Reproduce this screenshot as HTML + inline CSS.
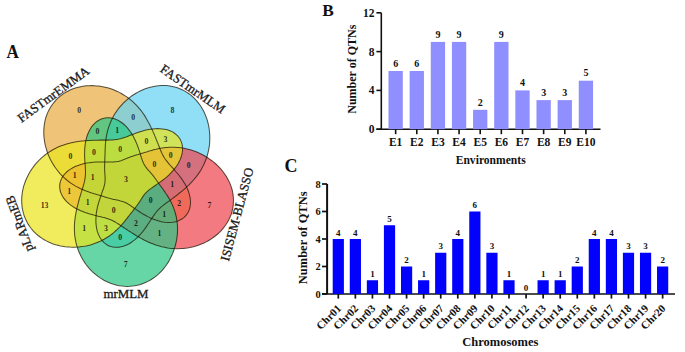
<!DOCTYPE html>
<html><head><meta charset="utf-8"><style>
html,body{margin:0;padding:0;background:#fff;}
svg{display:block;}
text{font-family:"Liberation Serif", serif;}
</style></head><body>
<svg width="685" height="352" viewBox="0 0 685 352">
<rect width="685" height="352" fill="#fff"/>
<g>
<path d="M171.5,166.7 L172.6,167.9 L173.8,169.2 L175.0,170.5 L176.2,172.0 L177.5,173.5 L178.8,175.0 L180.1,176.7 L181.4,178.4 L182.6,180.2 L183.8,182.1 L185.0,184.0 L186.1,186.0 L187.1,188.1 L188.0,190.2 L188.8,192.4 L189.4,194.6 L189.9,196.8 L190.3,199.0 L190.5,201.2 L190.5,203.3 L190.3,205.4 L189.9,207.5 L189.4,209.4 L188.6,211.3 L187.7,213.1 L186.6,214.7 L185.3,216.2 L183.8,217.6 L182.2,218.8 L180.4,219.8 L178.5,220.7 L176.5,221.4 L174.3,221.9 L172.1,222.2 L169.9,222.4 L167.6,222.4 L165.2,222.2 L162.9,221.9 L160.5,221.4 L158.2,220.8 L155.9,220.1 L153.6,219.3 L151.4,218.4 L149.3,217.4 L147.2,216.4 L145.3,215.3 L143.4,214.2 L141.6,213.1 L139.9,212.0 L138.3,211.0 L136.7,209.9 L135.3,208.9 L133.9,208.0 L132.7,207.1 L131.4,206.2 L130.3,205.4 L129.2,204.7 L128.2,204.1 L127.2,203.5 L126.2,203.0 L125.2,202.5 L124.3,202.1 L123.4,201.8 L122.5,201.4 L121.7,201.2 L120.8,200.9 L119.9,200.7 L119.1,200.5 L118.2,200.3 L117.3,200.1 L116.5,200.0 L115.6,199.8 L114.7,199.6 L113.8,199.4 L112.9,199.2 L112.1,199.0 L111.2,198.8 L110.3,198.6 L109.4,198.3 L108.5,198.1 L107.5,197.8 L106.6,197.5 L105.7,197.2 L104.8,196.9 L103.8,196.6 L102.8,196.3 L101.8,196.0 L100.8,195.7 L99.8,195.4 L98.7,195.1 L97.6,194.7 L96.5,194.4 L95.3,194.0 L94.1,193.7 L92.9,193.3 L91.6,192.9 L90.3,192.4 L89.0,192.0 L87.6,191.5 L86.2,191.0 L84.7,190.4 L83.2,189.8 L81.7,189.2 L80.2,188.5 L78.7,187.7 L77.1,186.9 L75.5,186.1 L74.0,185.1 L72.4,184.1 L70.8,183.1 L69.3,182.0 L67.7,180.8 L66.2,179.5 L64.6,178.2 L63.2,176.8 L61.7,175.3 L60.2,173.8 L58.8,172.2 L57.5,170.5 L56.2,168.8 L54.9,167.0 L53.7,165.1 L52.5,163.2 L51.4,161.2 L50.3,159.2 L49.3,157.1 L48.4,155.0 L47.5,152.8 L46.8,150.5 L46.1,148.2 L45.4,145.9 L44.9,143.5 L44.5,141.1 L44.2,138.7 L43.9,136.3 L43.8,133.8 L43.8,131.3 L43.9,128.9 L44.1,126.4 L44.4,124.0 L44.9,121.5 L45.4,119.1 L46.1,116.7 L47.0,114.4 L47.9,112.1 L49.0,109.9 L50.2,107.8 L51.5,105.7 L52.9,103.7 L54.5,101.8 L56.1,99.9 L57.8,98.2 L59.7,96.6 L61.6,95.1 L63.6,93.6 L65.7,92.3 L67.9,91.2 L70.1,90.1 L72.4,89.1 L74.7,88.3 L77.1,87.6 L79.5,87.0 L81.9,86.5 L84.3,86.1 L86.8,85.8 L89.3,85.7 L91.7,85.6 L94.2,85.7 L96.6,85.9 L99.0,86.1 L101.4,86.5 L103.8,86.9 L106.2,87.5 L108.5,88.1 L110.7,88.8 L113.0,89.6 L115.1,90.5 L117.3,91.4 L119.3,92.4 L121.4,93.5 L123.3,94.7 L125.2,95.9 L127.1,97.1 L128.9,98.5 L130.6,99.8 L132.2,101.2 L133.8,102.7 L135.3,104.1 L136.8,105.6 L138.1,107.1 L139.4,108.7 L140.7,110.2 L141.9,111.8 L143.0,113.3 L144.1,114.9 L145.1,116.4 L146.0,117.9 L146.9,119.4 L147.7,120.9 L148.5,122.4 L149.3,123.8 L150.0,125.2 L150.7,126.6 L151.3,128.0 L152.0,129.3 L152.6,130.6 L153.1,131.9 L153.7,133.2 L154.2,134.4 L154.7,135.6 L155.2,136.8 L155.7,137.9 L156.1,139.1 L156.6,140.2 L157.0,141.3 L157.4,142.4 L157.9,143.4 L158.3,144.5 L158.7,145.5 L159.1,146.5 L159.5,147.6 L159.9,148.6 L160.3,149.6 L160.7,150.5 L161.1,151.5 L161.5,152.5 L162.0,153.4 L162.4,154.4 L162.9,155.4 L163.5,156.3 L164.0,157.3 L164.6,158.2 L165.3,159.2 L166.0,160.2 L166.8,161.2 L167.6,162.2 L168.5,163.3 L169.4,164.4 L170.4,165.5Z" fill="#EAAD44" fill-opacity="0.72" stroke="none"/>
<path d="M151.1,219.4 L150.3,220.8 L149.3,222.3 L148.3,223.8 L147.3,225.3 L146.2,226.9 L145.0,228.6 L143.8,230.2 L142.5,231.9 L141.1,233.5 L139.6,235.2 L138.1,236.8 L136.4,238.3 L134.7,239.8 L132.9,241.2 L131.1,242.5 L129.1,243.7 L127.2,244.7 L125.2,245.6 L123.1,246.3 L121.0,246.8 L119.0,247.2 L116.9,247.3 L114.9,247.3 L112.9,247.0 L111.0,246.6 L109.1,245.9 L107.3,245.0 L105.7,243.9 L104.1,242.6 L102.6,241.1 L101.3,239.5 L100.1,237.7 L99.1,235.8 L98.2,233.7 L97.4,231.6 L96.8,229.3 L96.4,227.0 L96.1,224.6 L95.9,222.2 L95.9,219.8 L96.0,217.4 L96.1,215.0 L96.4,212.7 L96.8,210.4 L97.2,208.1 L97.7,206.0 L98.3,203.9 L98.9,201.9 L99.5,200.0 L100.1,198.1 L100.7,196.4 L101.3,194.7 L101.8,193.2 L102.3,191.7 L102.8,190.3 L103.3,189.0 L103.7,187.8 L104.0,186.6 L104.3,185.5 L104.6,184.4 L104.8,183.4 L104.9,182.4 L105.0,181.5 L105.1,180.5 L105.1,179.6 L105.1,178.7 L105.1,177.8 L105.1,176.9 L105.0,176.0 L105.0,175.2 L104.9,174.3 L104.8,173.4 L104.8,172.5 L104.7,171.6 L104.7,170.7 L104.7,169.8 L104.6,168.8 L104.6,167.9 L104.6,167.0 L104.6,166.0 L104.6,165.1 L104.7,164.1 L104.7,163.2 L104.7,162.2 L104.8,161.2 L104.8,160.2 L104.8,159.1 L104.9,158.1 L104.9,157.0 L105.0,155.8 L105.0,154.7 L105.0,153.5 L105.1,152.3 L105.1,151.1 L105.1,149.8 L105.2,148.4 L105.3,147.1 L105.3,145.6 L105.4,144.2 L105.6,142.7 L105.7,141.1 L105.9,139.6 L106.1,137.9 L106.4,136.3 L106.7,134.6 L107.1,132.9 L107.5,131.2 L108.0,129.4 L108.5,127.6 L109.1,125.9 L109.8,124.1 L110.5,122.3 L111.3,120.5 L112.2,118.7 L113.1,116.9 L114.1,115.1 L115.2,113.3 L116.4,111.6 L117.6,109.8 L118.9,108.1 L120.3,106.4 L121.8,104.8 L123.3,103.2 L124.9,101.6 L126.6,100.1 L128.3,98.6 L130.1,97.2 L132.0,95.8 L134.0,94.5 L136.0,93.3 L138.0,92.1 L140.2,91.0 L142.4,90.0 L144.6,89.1 L146.9,88.2 L149.2,87.5 L151.5,86.9 L153.9,86.4 L156.3,86.0 L158.8,85.7 L161.2,85.5 L163.7,85.5 L166.1,85.6 L168.6,85.8 L171.0,86.2 L173.4,86.7 L175.8,87.3 L178.1,88.0 L180.4,88.9 L182.6,89.9 L184.8,91.1 L186.9,92.4 L188.9,93.7 L190.9,95.2 L192.8,96.9 L194.6,98.6 L196.3,100.4 L197.9,102.3 L199.4,104.2 L200.8,106.3 L202.1,108.4 L203.3,110.6 L204.4,112.8 L205.4,115.1 L206.3,117.4 L207.1,119.7 L207.8,122.1 L208.4,124.5 L208.9,126.9 L209.2,129.3 L209.5,131.7 L209.7,134.1 L209.8,136.5 L209.8,138.9 L209.7,141.3 L209.6,143.7 L209.3,146.0 L208.9,148.3 L208.5,150.6 L208.0,152.8 L207.4,155.0 L206.8,157.1 L206.0,159.2 L205.2,161.3 L204.4,163.3 L203.5,165.2 L202.5,167.1 L201.5,168.9 L200.5,170.7 L199.4,172.4 L198.2,174.1 L197.1,175.6 L195.9,177.2 L194.7,178.6 L193.5,180.0 L192.3,181.4 L191.1,182.7 L189.9,183.9 L188.7,185.1 L187.5,186.2 L186.3,187.3 L185.1,188.4 L184.0,189.4 L182.9,190.3 L181.7,191.3 L180.6,192.2 L179.6,193.0 L178.5,193.9 L177.5,194.7 L176.5,195.5 L175.5,196.2 L174.5,197.0 L173.5,197.7 L172.6,198.4 L171.6,199.1 L170.7,199.8 L169.8,200.5 L168.9,201.1 L168.0,201.8 L167.1,202.4 L166.3,203.0 L165.4,203.7 L164.6,204.3 L163.7,204.9 L162.9,205.6 L162.1,206.2 L161.3,206.9 L160.5,207.6 L159.7,208.3 L158.9,209.1 L158.2,209.9 L157.4,210.7 L156.7,211.6 L155.9,212.5 L155.2,213.5 L154.4,214.6 L153.6,215.7 L152.8,216.9 L152.0,218.1Z" fill="#66D3F4" fill-opacity="0.72" stroke="none"/>
<path d="M99.7,216.5 L98.1,216.2 L96.4,215.7 L94.6,215.3 L92.8,214.8 L90.9,214.3 L88.9,213.8 L86.9,213.1 L84.9,212.4 L82.8,211.6 L80.7,210.8 L78.7,209.8 L76.6,208.8 L74.6,207.7 L72.6,206.4 L70.7,205.1 L68.9,203.7 L67.3,202.2 L65.7,200.6 L64.3,198.9 L63.0,197.1 L62.0,195.3 L61.1,193.4 L60.4,191.5 L60.0,189.6 L59.7,187.6 L59.7,185.6 L59.9,183.7 L60.3,181.8 L61.0,179.9 L61.8,178.1 L62.9,176.3 L64.2,174.6 L65.6,173.0 L67.2,171.5 L69.0,170.1 L70.9,168.9 L72.9,167.7 L75.1,166.6 L77.3,165.7 L79.5,164.9 L81.8,164.2 L84.1,163.6 L86.5,163.1 L88.8,162.8 L91.1,162.4 L93.3,162.2 L95.5,162.1 L97.6,162.0 L99.6,161.9 L101.5,161.9 L103.4,161.9 L105.1,161.9 L106.8,161.9 L108.4,162.0 L109.9,162.0 L111.3,162.0 L112.6,161.9 L113.8,161.9 L115.0,161.8 L116.1,161.7 L117.1,161.6 L118.1,161.4 L119.0,161.2 L119.9,160.9 L120.8,160.7 L121.7,160.4 L122.5,160.1 L123.3,159.8 L124.2,159.4 L125.0,159.1 L125.8,158.8 L126.6,158.4 L127.4,158.1 L128.3,157.7 L129.1,157.4 L130.0,157.1 L130.8,156.8 L131.7,156.5 L132.6,156.2 L133.5,155.9 L134.4,155.6 L135.3,155.3 L136.2,155.0 L137.1,154.7 L138.1,154.5 L139.1,154.2 L140.1,153.9 L141.1,153.6 L142.1,153.2 L143.2,152.9 L144.3,152.6 L145.4,152.2 L146.6,151.9 L147.8,151.5 L149.0,151.1 L150.3,150.8 L151.6,150.4 L153.0,150.0 L154.4,149.6 L155.9,149.3 L157.4,148.9 L158.9,148.6 L160.5,148.3 L162.2,148.0 L163.9,147.8 L165.6,147.6 L167.4,147.4 L169.2,147.3 L171.1,147.2 L173.0,147.2 L174.9,147.3 L176.9,147.4 L178.9,147.5 L180.9,147.8 L182.9,148.1 L185.0,148.5 L187.0,148.9 L189.1,149.5 L191.2,150.1 L193.3,150.7 L195.4,151.5 L197.4,152.3 L199.5,153.3 L201.6,154.3 L203.6,155.3 L205.6,156.5 L207.6,157.7 L209.6,159.1 L211.5,160.5 L213.4,161.9 L215.3,163.5 L217.1,165.1 L218.8,166.9 L220.5,168.7 L222.1,170.5 L223.6,172.5 L225.0,174.5 L226.4,176.5 L227.6,178.7 L228.8,180.9 L229.8,183.1 L230.7,185.4 L231.5,187.7 L232.2,190.1 L232.7,192.5 L233.1,194.9 L233.3,197.3 L233.5,199.7 L233.4,202.1 L233.3,204.6 L233.0,207.0 L232.5,209.4 L232.0,211.7 L231.3,214.0 L230.4,216.3 L229.4,218.5 L228.3,220.7 L227.1,222.8 L225.8,224.8 L224.4,226.8 L222.9,228.7 L221.2,230.6 L219.5,232.3 L217.7,234.0 L215.9,235.5 L213.9,237.0 L212.0,238.4 L209.9,239.8 L207.8,241.0 L205.7,242.1 L203.5,243.2 L201.3,244.1 L199.0,245.0 L196.8,245.7 L194.5,246.4 L192.2,247.0 L189.9,247.5 L187.6,247.9 L185.3,248.2 L183.1,248.5 L180.8,248.6 L178.5,248.7 L176.3,248.7 L174.1,248.6 L171.9,248.4 L169.7,248.2 L167.6,247.9 L165.5,247.5 L163.4,247.1 L161.4,246.7 L159.5,246.1 L157.6,245.6 L155.7,245.0 L153.9,244.3 L152.1,243.6 L150.4,242.9 L148.8,242.2 L147.2,241.5 L145.6,240.7 L144.1,240.0 L142.7,239.2 L141.3,238.4 L139.9,237.7 L138.6,236.9 L137.3,236.2 L136.1,235.5 L134.9,234.7 L133.7,234.0 L132.6,233.3 L131.4,232.6 L130.4,231.9 L129.3,231.2 L128.3,230.6 L127.3,229.9 L126.3,229.2 L125.3,228.6 L124.3,228.0 L123.4,227.3 L122.5,226.7 L121.5,226.1 L120.6,225.5 L119.7,224.9 L118.8,224.3 L117.9,223.7 L117.0,223.1 L116.1,222.6 L115.2,222.0 L114.3,221.5 L113.3,221.0 L112.3,220.5 L111.3,220.1 L110.2,219.6 L109.1,219.2 L108.0,218.8 L106.8,218.4 L105.5,218.0 L104.2,217.6 L102.8,217.3 L101.3,216.9Z" fill="#F04651" fill-opacity="0.72" stroke="none"/>
<path d="M85.2,165.3 L85.0,163.7 L84.9,162.0 L84.8,160.2 L84.7,158.3 L84.6,156.4 L84.6,154.4 L84.6,152.3 L84.7,150.2 L84.8,148.1 L85.0,145.9 L85.3,143.6 L85.7,141.4 L86.2,139.2 L86.8,137.0 L87.5,134.8 L88.4,132.7 L89.3,130.7 L90.4,128.7 L91.6,126.9 L93.0,125.2 L94.4,123.6 L96.0,122.2 L97.6,121.0 L99.4,119.9 L101.2,119.1 L103.1,118.4 L105.1,118.0 L107.1,117.8 L109.1,117.8 L111.2,118.0 L113.2,118.4 L115.2,119.1 L117.2,119.9 L119.2,121.0 L121.1,122.2 L122.9,123.5 L124.6,125.0 L126.3,126.7 L127.8,128.4 L129.3,130.3 L130.7,132.2 L132.0,134.1 L133.1,136.1 L134.2,138.2 L135.2,140.2 L136.1,142.2 L136.9,144.1 L137.6,146.0 L138.3,147.9 L138.9,149.7 L139.5,151.4 L140.0,153.1 L140.5,154.6 L140.9,156.1 L141.3,157.5 L141.8,158.8 L142.2,160.0 L142.6,161.1 L143.0,162.1 L143.5,163.1 L143.9,164.0 L144.4,164.9 L144.9,165.7 L145.4,166.5 L145.9,167.2 L146.5,167.9 L147.0,168.6 L147.6,169.3 L148.1,169.9 L148.7,170.6 L149.3,171.2 L149.9,171.9 L150.4,172.5 L151.0,173.2 L151.6,173.9 L152.2,174.5 L152.7,175.2 L153.3,175.9 L153.9,176.7 L154.4,177.4 L155.0,178.2 L155.5,178.9 L156.1,179.7 L156.6,180.5 L157.2,181.3 L157.8,182.1 L158.4,182.9 L159.0,183.8 L159.6,184.6 L160.2,185.5 L160.9,186.4 L161.6,187.3 L162.3,188.3 L163.0,189.3 L163.7,190.3 L164.5,191.4 L165.2,192.5 L166.0,193.7 L166.8,194.8 L167.6,196.1 L168.4,197.4 L169.2,198.7 L170.0,200.1 L170.7,201.6 L171.5,203.1 L172.2,204.6 L172.9,206.2 L173.6,207.9 L174.2,209.6 L174.8,211.3 L175.3,213.1 L175.8,215.0 L176.3,216.9 L176.6,218.8 L176.9,220.8 L177.2,222.8 L177.4,224.9 L177.5,227.0 L177.5,229.1 L177.5,231.2 L177.4,233.4 L177.2,235.6 L176.9,237.8 L176.6,240.0 L176.1,242.3 L175.6,244.5 L175.0,246.7 L174.3,249.0 L173.5,251.2 L172.7,253.4 L171.7,255.6 L170.6,257.8 L169.5,260.0 L168.3,262.1 L166.9,264.2 L165.5,266.2 L164.0,268.2 L162.4,270.1 L160.7,271.9 L158.9,273.6 L157.0,275.3 L155.1,276.9 L153.0,278.3 L150.9,279.7 L148.8,280.9 L146.5,282.1 L144.3,283.1 L141.9,283.9 L139.6,284.7 L137.2,285.3 L134.7,285.8 L132.3,286.1 L129.8,286.3 L127.3,286.4 L124.9,286.3 L122.4,286.1 L120.0,285.8 L117.6,285.4 L115.2,284.8 L112.8,284.1 L110.5,283.3 L108.2,282.3 L106.0,281.3 L103.9,280.2 L101.8,278.9 L99.7,277.6 L97.7,276.2 L95.8,274.7 L94.0,273.2 L92.3,271.6 L90.6,269.9 L89.0,268.1 L87.5,266.3 L86.1,264.5 L84.7,262.6 L83.4,260.6 L82.3,258.7 L81.2,256.7 L80.2,254.6 L79.2,252.6 L78.4,250.5 L77.7,248.5 L77.0,246.4 L76.4,244.3 L75.9,242.2 L75.5,240.1 L75.1,238.1 L74.8,236.0 L74.6,234.0 L74.5,232.0 L74.4,230.0 L74.4,228.1 L74.4,226.1 L74.5,224.3 L74.6,222.4 L74.8,220.6 L75.0,218.8 L75.2,217.1 L75.5,215.5 L75.8,213.8 L76.1,212.2 L76.4,210.7 L76.7,209.2 L77.0,207.7 L77.4,206.3 L77.7,204.9 L78.1,203.6 L78.4,202.3 L78.8,201.0 L79.1,199.7 L79.4,198.5 L79.8,197.3 L80.1,196.2 L80.5,195.0 L80.8,193.9 L81.1,192.8 L81.5,191.7 L81.8,190.6 L82.1,189.6 L82.5,188.5 L82.8,187.5 L83.1,186.5 L83.4,185.4 L83.7,184.4 L84.0,183.4 L84.2,182.4 L84.5,181.4 L84.7,180.3 L84.9,179.3 L85.1,178.2 L85.2,177.1 L85.3,176.0 L85.4,174.8 L85.5,173.6 L85.5,172.4 L85.5,171.1 L85.4,169.7 L85.4,168.3 L85.3,166.8Z" fill="#2DC683" fill-opacity="0.72" stroke="none"/>
<path d="M129.5,135.6 L131.1,135.0 L132.7,134.4 L134.4,133.8 L136.2,133.1 L138.0,132.5 L140.0,131.8 L142.0,131.2 L144.0,130.6 L146.2,130.1 L148.4,129.6 L150.6,129.2 L152.9,128.9 L155.2,128.7 L157.5,128.6 L159.8,128.7 L162.0,128.9 L164.3,129.2 L166.5,129.6 L168.6,130.2 L170.6,131.0 L172.5,131.9 L174.3,133.0 L175.9,134.3 L177.4,135.6 L178.7,137.2 L179.9,138.8 L180.8,140.6 L181.5,142.4 L182.1,144.4 L182.4,146.4 L182.5,148.5 L182.5,150.7 L182.2,152.9 L181.7,155.1 L181.0,157.3 L180.2,159.4 L179.2,161.6 L178.1,163.7 L176.8,165.7 L175.4,167.7 L173.9,169.6 L172.3,171.4 L170.7,173.2 L169.1,174.8 L167.4,176.4 L165.7,177.9 L164.0,179.2 L162.3,180.5 L160.7,181.7 L159.1,182.9 L157.6,183.9 L156.1,184.9 L154.8,185.8 L153.5,186.7 L152.2,187.6 L151.1,188.4 L150.0,189.1 L149.1,189.9 L148.2,190.6 L147.3,191.4 L146.6,192.1 L145.8,192.8 L145.2,193.5 L144.6,194.2 L144.0,194.9 L143.5,195.7 L143.0,196.4 L142.5,197.1 L142.0,197.9 L141.5,198.7 L141.0,199.4 L140.6,200.2 L140.1,200.9 L139.6,201.7 L139.1,202.4 L138.6,203.2 L138.0,204.0 L137.5,204.7 L137.0,205.5 L136.4,206.2 L135.8,207.0 L135.2,207.8 L134.6,208.5 L134.0,209.3 L133.4,210.1 L132.8,210.9 L132.1,211.7 L131.5,212.6 L130.8,213.4 L130.1,214.3 L129.4,215.2 L128.7,216.2 L127.9,217.1 L127.2,218.1 L126.4,219.2 L125.5,220.2 L124.7,221.3 L123.7,222.4 L122.8,223.5 L121.8,224.7 L120.8,225.8 L119.7,227.0 L118.5,228.2 L117.3,229.3 L116.1,230.5 L114.8,231.7 L113.4,232.9 L112.0,234.0 L110.5,235.1 L109.0,236.2 L107.3,237.3 L105.7,238.3 L104.0,239.3 L102.2,240.3 L100.3,241.2 L98.4,242.0 L96.5,242.8 L94.5,243.6 L92.5,244.2 L90.4,244.9 L88.2,245.4 L86.1,245.9 L83.8,246.3 L81.6,246.6 L79.3,246.9 L77.0,247.1 L74.7,247.2 L72.3,247.2 L69.9,247.1 L67.5,246.9 L65.1,246.7 L62.7,246.3 L60.3,245.9 L57.9,245.3 L55.6,244.7 L53.2,243.9 L50.9,243.0 L48.6,242.0 L46.4,240.9 L44.2,239.7 L42.1,238.4 L40.1,237.0 L38.1,235.5 L36.2,233.9 L34.4,232.2 L32.7,230.4 L31.2,228.5 L29.7,226.5 L28.3,224.4 L27.1,222.3 L26.0,220.1 L25.0,217.8 L24.1,215.5 L23.4,213.2 L22.8,210.7 L22.3,208.3 L22.0,205.9 L21.8,203.4 L21.7,200.9 L21.7,198.4 L21.9,195.9 L22.2,193.4 L22.6,191.0 L23.1,188.6 L23.7,186.2 L24.5,183.8 L25.3,181.5 L26.2,179.2 L27.3,176.9 L28.4,174.8 L29.6,172.6 L30.8,170.6 L32.2,168.5 L33.6,166.6 L35.0,164.7 L36.6,162.9 L38.2,161.2 L39.8,159.5 L41.5,157.9 L43.3,156.4 L45.0,155.0 L46.8,153.6 L48.7,152.4 L50.5,151.2 L52.4,150.0 L54.3,149.0 L56.2,148.0 L58.1,147.1 L60.1,146.3 L62.0,145.6 L63.9,144.9 L65.8,144.3 L67.6,143.7 L69.5,143.2 L71.3,142.8 L73.1,142.4 L74.9,142.1 L76.6,141.8 L78.3,141.5 L79.9,141.3 L81.6,141.1 L83.1,140.9 L84.7,140.8 L86.2,140.7 L87.7,140.6 L89.1,140.5 L90.5,140.4 L91.9,140.3 L93.2,140.3 L94.5,140.2 L95.8,140.2 L97.0,140.2 L98.2,140.2 L99.4,140.1 L100.6,140.1 L101.8,140.1 L102.9,140.1 L104.1,140.1 L105.2,140.1 L106.3,140.1 L107.4,140.1 L108.5,140.1 L109.5,140.0 L110.6,140.0 L111.7,140.0 L112.7,139.9 L113.8,139.8 L114.8,139.8 L115.9,139.6 L117.0,139.5 L118.1,139.3 L119.2,139.1 L120.4,138.8 L121.5,138.5 L122.7,138.1 L124.0,137.7 L125.3,137.3 L126.7,136.8 L128.1,136.2Z" fill="#EAE51F" fill-opacity="0.72" stroke="none"/>
<path d="M171.5,166.7 L172.6,167.9 L173.8,169.2 L175.0,170.5 L176.2,172.0 L177.5,173.5 L178.8,175.0 L180.1,176.7 L181.4,178.4 L182.6,180.2 L183.8,182.1 L185.0,184.0 L186.1,186.0 L187.1,188.1 L188.0,190.2 L188.8,192.4 L189.4,194.6 L189.9,196.8 L190.3,199.0 L190.5,201.2 L190.5,203.3 L190.3,205.4 L189.9,207.5 L189.4,209.4 L188.6,211.3 L187.7,213.1 L186.6,214.7 L185.3,216.2 L183.8,217.6 L182.2,218.8 L180.4,219.8 L178.5,220.7 L176.5,221.4 L174.3,221.9 L172.1,222.2 L169.9,222.4 L167.6,222.4 L165.2,222.2 L162.9,221.9 L160.5,221.4 L158.2,220.8 L155.9,220.1 L153.6,219.3 L151.4,218.4 L149.3,217.4 L147.2,216.4 L145.3,215.3 L143.4,214.2 L141.6,213.1 L139.9,212.0 L138.3,211.0 L136.7,209.9 L135.3,208.9 L133.9,208.0 L132.7,207.1 L131.4,206.2 L130.3,205.4 L129.2,204.7 L128.2,204.1 L127.2,203.5 L126.2,203.0 L125.2,202.5 L124.3,202.1 L123.4,201.8 L122.5,201.4 L121.7,201.2 L120.8,200.9 L119.9,200.7 L119.1,200.5 L118.2,200.3 L117.3,200.1 L116.5,200.0 L115.6,199.8 L114.7,199.6 L113.8,199.4 L112.9,199.2 L112.1,199.0 L111.2,198.8 L110.3,198.6 L109.4,198.3 L108.5,198.1 L107.5,197.8 L106.6,197.5 L105.7,197.2 L104.8,196.9 L103.8,196.6 L102.8,196.3 L101.8,196.0 L100.8,195.7 L99.8,195.4 L98.7,195.1 L97.6,194.7 L96.5,194.4 L95.3,194.0 L94.1,193.7 L92.9,193.3 L91.6,192.9 L90.3,192.4 L89.0,192.0 L87.6,191.5 L86.2,191.0 L84.7,190.4 L83.2,189.8 L81.7,189.2 L80.2,188.5 L78.7,187.7 L77.1,186.9 L75.5,186.1 L74.0,185.1 L72.4,184.1 L70.8,183.1 L69.3,182.0 L67.7,180.8 L66.2,179.5 L64.6,178.2 L63.2,176.8 L61.7,175.3 L60.2,173.8 L58.8,172.2 L57.5,170.5 L56.2,168.8 L54.9,167.0 L53.7,165.1 L52.5,163.2 L51.4,161.2 L50.3,159.2 L49.3,157.1 L48.4,155.0 L47.5,152.8 L46.8,150.5 L46.1,148.2 L45.4,145.9 L44.9,143.5 L44.5,141.1 L44.2,138.7 L43.9,136.3 L43.8,133.8 L43.8,131.3 L43.9,128.9 L44.1,126.4 L44.4,124.0 L44.9,121.5 L45.4,119.1 L46.1,116.7 L47.0,114.4 L47.9,112.1 L49.0,109.9 L50.2,107.8 L51.5,105.7 L52.9,103.7 L54.5,101.8 L56.1,99.9 L57.8,98.2 L59.7,96.6 L61.6,95.1 L63.6,93.6 L65.7,92.3 L67.9,91.2 L70.1,90.1 L72.4,89.1 L74.7,88.3 L77.1,87.6 L79.5,87.0 L81.9,86.5 L84.3,86.1 L86.8,85.8 L89.3,85.7 L91.7,85.6 L94.2,85.7 L96.6,85.9 L99.0,86.1 L101.4,86.5 L103.8,86.9 L106.2,87.5 L108.5,88.1 L110.7,88.8 L113.0,89.6 L115.1,90.5 L117.3,91.4 L119.3,92.4 L121.4,93.5 L123.3,94.7 L125.2,95.9 L127.1,97.1 L128.9,98.5 L130.6,99.8 L132.2,101.2 L133.8,102.7 L135.3,104.1 L136.8,105.6 L138.1,107.1 L139.4,108.7 L140.7,110.2 L141.9,111.8 L143.0,113.3 L144.1,114.9 L145.1,116.4 L146.0,117.9 L146.9,119.4 L147.7,120.9 L148.5,122.4 L149.3,123.8 L150.0,125.2 L150.7,126.6 L151.3,128.0 L152.0,129.3 L152.6,130.6 L153.1,131.9 L153.7,133.2 L154.2,134.4 L154.7,135.6 L155.2,136.8 L155.7,137.9 L156.1,139.1 L156.6,140.2 L157.0,141.3 L157.4,142.4 L157.9,143.4 L158.3,144.5 L158.7,145.5 L159.1,146.5 L159.5,147.6 L159.9,148.6 L160.3,149.6 L160.7,150.5 L161.1,151.5 L161.5,152.5 L162.0,153.4 L162.4,154.4 L162.9,155.4 L163.5,156.3 L164.0,157.3 L164.6,158.2 L165.3,159.2 L166.0,160.2 L166.8,161.2 L167.6,162.2 L168.5,163.3 L169.4,164.4 L170.4,165.5Z" fill="none" stroke="#1a1200" stroke-opacity="0.72" stroke-width="1.05"/>
<path d="M151.1,219.4 L150.3,220.8 L149.3,222.3 L148.3,223.8 L147.3,225.3 L146.2,226.9 L145.0,228.6 L143.8,230.2 L142.5,231.9 L141.1,233.5 L139.6,235.2 L138.1,236.8 L136.4,238.3 L134.7,239.8 L132.9,241.2 L131.1,242.5 L129.1,243.7 L127.2,244.7 L125.2,245.6 L123.1,246.3 L121.0,246.8 L119.0,247.2 L116.9,247.3 L114.9,247.3 L112.9,247.0 L111.0,246.6 L109.1,245.9 L107.3,245.0 L105.7,243.9 L104.1,242.6 L102.6,241.1 L101.3,239.5 L100.1,237.7 L99.1,235.8 L98.2,233.7 L97.4,231.6 L96.8,229.3 L96.4,227.0 L96.1,224.6 L95.9,222.2 L95.9,219.8 L96.0,217.4 L96.1,215.0 L96.4,212.7 L96.8,210.4 L97.2,208.1 L97.7,206.0 L98.3,203.9 L98.9,201.9 L99.5,200.0 L100.1,198.1 L100.7,196.4 L101.3,194.7 L101.8,193.2 L102.3,191.7 L102.8,190.3 L103.3,189.0 L103.7,187.8 L104.0,186.6 L104.3,185.5 L104.6,184.4 L104.8,183.4 L104.9,182.4 L105.0,181.5 L105.1,180.5 L105.1,179.6 L105.1,178.7 L105.1,177.8 L105.1,176.9 L105.0,176.0 L105.0,175.2 L104.9,174.3 L104.8,173.4 L104.8,172.5 L104.7,171.6 L104.7,170.7 L104.7,169.8 L104.6,168.8 L104.6,167.9 L104.6,167.0 L104.6,166.0 L104.6,165.1 L104.7,164.1 L104.7,163.2 L104.7,162.2 L104.8,161.2 L104.8,160.2 L104.8,159.1 L104.9,158.1 L104.9,157.0 L105.0,155.8 L105.0,154.7 L105.0,153.5 L105.1,152.3 L105.1,151.1 L105.1,149.8 L105.2,148.4 L105.3,147.1 L105.3,145.6 L105.4,144.2 L105.6,142.7 L105.7,141.1 L105.9,139.6 L106.1,137.9 L106.4,136.3 L106.7,134.6 L107.1,132.9 L107.5,131.2 L108.0,129.4 L108.5,127.6 L109.1,125.9 L109.8,124.1 L110.5,122.3 L111.3,120.5 L112.2,118.7 L113.1,116.9 L114.1,115.1 L115.2,113.3 L116.4,111.6 L117.6,109.8 L118.9,108.1 L120.3,106.4 L121.8,104.8 L123.3,103.2 L124.9,101.6 L126.6,100.1 L128.3,98.6 L130.1,97.2 L132.0,95.8 L134.0,94.5 L136.0,93.3 L138.0,92.1 L140.2,91.0 L142.4,90.0 L144.6,89.1 L146.9,88.2 L149.2,87.5 L151.5,86.9 L153.9,86.4 L156.3,86.0 L158.8,85.7 L161.2,85.5 L163.7,85.5 L166.1,85.6 L168.6,85.8 L171.0,86.2 L173.4,86.7 L175.8,87.3 L178.1,88.0 L180.4,88.9 L182.6,89.9 L184.8,91.1 L186.9,92.4 L188.9,93.7 L190.9,95.2 L192.8,96.9 L194.6,98.6 L196.3,100.4 L197.9,102.3 L199.4,104.2 L200.8,106.3 L202.1,108.4 L203.3,110.6 L204.4,112.8 L205.4,115.1 L206.3,117.4 L207.1,119.7 L207.8,122.1 L208.4,124.5 L208.9,126.9 L209.2,129.3 L209.5,131.7 L209.7,134.1 L209.8,136.5 L209.8,138.9 L209.7,141.3 L209.6,143.7 L209.3,146.0 L208.9,148.3 L208.5,150.6 L208.0,152.8 L207.4,155.0 L206.8,157.1 L206.0,159.2 L205.2,161.3 L204.4,163.3 L203.5,165.2 L202.5,167.1 L201.5,168.9 L200.5,170.7 L199.4,172.4 L198.2,174.1 L197.1,175.6 L195.9,177.2 L194.7,178.6 L193.5,180.0 L192.3,181.4 L191.1,182.7 L189.9,183.9 L188.7,185.1 L187.5,186.2 L186.3,187.3 L185.1,188.4 L184.0,189.4 L182.9,190.3 L181.7,191.3 L180.6,192.2 L179.6,193.0 L178.5,193.9 L177.5,194.7 L176.5,195.5 L175.5,196.2 L174.5,197.0 L173.5,197.7 L172.6,198.4 L171.6,199.1 L170.7,199.8 L169.8,200.5 L168.9,201.1 L168.0,201.8 L167.1,202.4 L166.3,203.0 L165.4,203.7 L164.6,204.3 L163.7,204.9 L162.9,205.6 L162.1,206.2 L161.3,206.9 L160.5,207.6 L159.7,208.3 L158.9,209.1 L158.2,209.9 L157.4,210.7 L156.7,211.6 L155.9,212.5 L155.2,213.5 L154.4,214.6 L153.6,215.7 L152.8,216.9 L152.0,218.1Z" fill="none" stroke="#1a1200" stroke-opacity="0.72" stroke-width="1.05"/>
<path d="M99.7,216.5 L98.1,216.2 L96.4,215.7 L94.6,215.3 L92.8,214.8 L90.9,214.3 L88.9,213.8 L86.9,213.1 L84.9,212.4 L82.8,211.6 L80.7,210.8 L78.7,209.8 L76.6,208.8 L74.6,207.7 L72.6,206.4 L70.7,205.1 L68.9,203.7 L67.3,202.2 L65.7,200.6 L64.3,198.9 L63.0,197.1 L62.0,195.3 L61.1,193.4 L60.4,191.5 L60.0,189.6 L59.7,187.6 L59.7,185.6 L59.9,183.7 L60.3,181.8 L61.0,179.9 L61.8,178.1 L62.9,176.3 L64.2,174.6 L65.6,173.0 L67.2,171.5 L69.0,170.1 L70.9,168.9 L72.9,167.7 L75.1,166.6 L77.3,165.7 L79.5,164.9 L81.8,164.2 L84.1,163.6 L86.5,163.1 L88.8,162.8 L91.1,162.4 L93.3,162.2 L95.5,162.1 L97.6,162.0 L99.6,161.9 L101.5,161.9 L103.4,161.9 L105.1,161.9 L106.8,161.9 L108.4,162.0 L109.9,162.0 L111.3,162.0 L112.6,161.9 L113.8,161.9 L115.0,161.8 L116.1,161.7 L117.1,161.6 L118.1,161.4 L119.0,161.2 L119.9,160.9 L120.8,160.7 L121.7,160.4 L122.5,160.1 L123.3,159.8 L124.2,159.4 L125.0,159.1 L125.8,158.8 L126.6,158.4 L127.4,158.1 L128.3,157.7 L129.1,157.4 L130.0,157.1 L130.8,156.8 L131.7,156.5 L132.6,156.2 L133.5,155.9 L134.4,155.6 L135.3,155.3 L136.2,155.0 L137.1,154.7 L138.1,154.5 L139.1,154.2 L140.1,153.9 L141.1,153.6 L142.1,153.2 L143.2,152.9 L144.3,152.6 L145.4,152.2 L146.6,151.9 L147.8,151.5 L149.0,151.1 L150.3,150.8 L151.6,150.4 L153.0,150.0 L154.4,149.6 L155.9,149.3 L157.4,148.9 L158.9,148.6 L160.5,148.3 L162.2,148.0 L163.9,147.8 L165.6,147.6 L167.4,147.4 L169.2,147.3 L171.1,147.2 L173.0,147.2 L174.9,147.3 L176.9,147.4 L178.9,147.5 L180.9,147.8 L182.9,148.1 L185.0,148.5 L187.0,148.9 L189.1,149.5 L191.2,150.1 L193.3,150.7 L195.4,151.5 L197.4,152.3 L199.5,153.3 L201.6,154.3 L203.6,155.3 L205.6,156.5 L207.6,157.7 L209.6,159.1 L211.5,160.5 L213.4,161.9 L215.3,163.5 L217.1,165.1 L218.8,166.9 L220.5,168.7 L222.1,170.5 L223.6,172.5 L225.0,174.5 L226.4,176.5 L227.6,178.7 L228.8,180.9 L229.8,183.1 L230.7,185.4 L231.5,187.7 L232.2,190.1 L232.7,192.5 L233.1,194.9 L233.3,197.3 L233.5,199.7 L233.4,202.1 L233.3,204.6 L233.0,207.0 L232.5,209.4 L232.0,211.7 L231.3,214.0 L230.4,216.3 L229.4,218.5 L228.3,220.7 L227.1,222.8 L225.8,224.8 L224.4,226.8 L222.9,228.7 L221.2,230.6 L219.5,232.3 L217.7,234.0 L215.9,235.5 L213.9,237.0 L212.0,238.4 L209.9,239.8 L207.8,241.0 L205.7,242.1 L203.5,243.2 L201.3,244.1 L199.0,245.0 L196.8,245.7 L194.5,246.4 L192.2,247.0 L189.9,247.5 L187.6,247.9 L185.3,248.2 L183.1,248.5 L180.8,248.6 L178.5,248.7 L176.3,248.7 L174.1,248.6 L171.9,248.4 L169.7,248.2 L167.6,247.9 L165.5,247.5 L163.4,247.1 L161.4,246.7 L159.5,246.1 L157.6,245.6 L155.7,245.0 L153.9,244.3 L152.1,243.6 L150.4,242.9 L148.8,242.2 L147.2,241.5 L145.6,240.7 L144.1,240.0 L142.7,239.2 L141.3,238.4 L139.9,237.7 L138.6,236.9 L137.3,236.2 L136.1,235.5 L134.9,234.7 L133.7,234.0 L132.6,233.3 L131.4,232.6 L130.4,231.9 L129.3,231.2 L128.3,230.6 L127.3,229.9 L126.3,229.2 L125.3,228.6 L124.3,228.0 L123.4,227.3 L122.5,226.7 L121.5,226.1 L120.6,225.5 L119.7,224.9 L118.8,224.3 L117.9,223.7 L117.0,223.1 L116.1,222.6 L115.2,222.0 L114.3,221.5 L113.3,221.0 L112.3,220.5 L111.3,220.1 L110.2,219.6 L109.1,219.2 L108.0,218.8 L106.8,218.4 L105.5,218.0 L104.2,217.6 L102.8,217.3 L101.3,216.9Z" fill="none" stroke="#1a1200" stroke-opacity="0.72" stroke-width="1.05"/>
<path d="M85.2,165.3 L85.0,163.7 L84.9,162.0 L84.8,160.2 L84.7,158.3 L84.6,156.4 L84.6,154.4 L84.6,152.3 L84.7,150.2 L84.8,148.1 L85.0,145.9 L85.3,143.6 L85.7,141.4 L86.2,139.2 L86.8,137.0 L87.5,134.8 L88.4,132.7 L89.3,130.7 L90.4,128.7 L91.6,126.9 L93.0,125.2 L94.4,123.6 L96.0,122.2 L97.6,121.0 L99.4,119.9 L101.2,119.1 L103.1,118.4 L105.1,118.0 L107.1,117.8 L109.1,117.8 L111.2,118.0 L113.2,118.4 L115.2,119.1 L117.2,119.9 L119.2,121.0 L121.1,122.2 L122.9,123.5 L124.6,125.0 L126.3,126.7 L127.8,128.4 L129.3,130.3 L130.7,132.2 L132.0,134.1 L133.1,136.1 L134.2,138.2 L135.2,140.2 L136.1,142.2 L136.9,144.1 L137.6,146.0 L138.3,147.9 L138.9,149.7 L139.5,151.4 L140.0,153.1 L140.5,154.6 L140.9,156.1 L141.3,157.5 L141.8,158.8 L142.2,160.0 L142.6,161.1 L143.0,162.1 L143.5,163.1 L143.9,164.0 L144.4,164.9 L144.9,165.7 L145.4,166.5 L145.9,167.2 L146.5,167.9 L147.0,168.6 L147.6,169.3 L148.1,169.9 L148.7,170.6 L149.3,171.2 L149.9,171.9 L150.4,172.5 L151.0,173.2 L151.6,173.9 L152.2,174.5 L152.7,175.2 L153.3,175.9 L153.9,176.7 L154.4,177.4 L155.0,178.2 L155.5,178.9 L156.1,179.7 L156.6,180.5 L157.2,181.3 L157.8,182.1 L158.4,182.9 L159.0,183.8 L159.6,184.6 L160.2,185.5 L160.9,186.4 L161.6,187.3 L162.3,188.3 L163.0,189.3 L163.7,190.3 L164.5,191.4 L165.2,192.5 L166.0,193.7 L166.8,194.8 L167.6,196.1 L168.4,197.4 L169.2,198.7 L170.0,200.1 L170.7,201.6 L171.5,203.1 L172.2,204.6 L172.9,206.2 L173.6,207.9 L174.2,209.6 L174.8,211.3 L175.3,213.1 L175.8,215.0 L176.3,216.9 L176.6,218.8 L176.9,220.8 L177.2,222.8 L177.4,224.9 L177.5,227.0 L177.5,229.1 L177.5,231.2 L177.4,233.4 L177.2,235.6 L176.9,237.8 L176.6,240.0 L176.1,242.3 L175.6,244.5 L175.0,246.7 L174.3,249.0 L173.5,251.2 L172.7,253.4 L171.7,255.6 L170.6,257.8 L169.5,260.0 L168.3,262.1 L166.9,264.2 L165.5,266.2 L164.0,268.2 L162.4,270.1 L160.7,271.9 L158.9,273.6 L157.0,275.3 L155.1,276.9 L153.0,278.3 L150.9,279.7 L148.8,280.9 L146.5,282.1 L144.3,283.1 L141.9,283.9 L139.6,284.7 L137.2,285.3 L134.7,285.8 L132.3,286.1 L129.8,286.3 L127.3,286.4 L124.9,286.3 L122.4,286.1 L120.0,285.8 L117.6,285.4 L115.2,284.8 L112.8,284.1 L110.5,283.3 L108.2,282.3 L106.0,281.3 L103.9,280.2 L101.8,278.9 L99.7,277.6 L97.7,276.2 L95.8,274.7 L94.0,273.2 L92.3,271.6 L90.6,269.9 L89.0,268.1 L87.5,266.3 L86.1,264.5 L84.7,262.6 L83.4,260.6 L82.3,258.7 L81.2,256.7 L80.2,254.6 L79.2,252.6 L78.4,250.5 L77.7,248.5 L77.0,246.4 L76.4,244.3 L75.9,242.2 L75.5,240.1 L75.1,238.1 L74.8,236.0 L74.6,234.0 L74.5,232.0 L74.4,230.0 L74.4,228.1 L74.4,226.1 L74.5,224.3 L74.6,222.4 L74.8,220.6 L75.0,218.8 L75.2,217.1 L75.5,215.5 L75.8,213.8 L76.1,212.2 L76.4,210.7 L76.7,209.2 L77.0,207.7 L77.4,206.3 L77.7,204.9 L78.1,203.6 L78.4,202.3 L78.8,201.0 L79.1,199.7 L79.4,198.5 L79.8,197.3 L80.1,196.2 L80.5,195.0 L80.8,193.9 L81.1,192.8 L81.5,191.7 L81.8,190.6 L82.1,189.6 L82.5,188.5 L82.8,187.5 L83.1,186.5 L83.4,185.4 L83.7,184.4 L84.0,183.4 L84.2,182.4 L84.5,181.4 L84.7,180.3 L84.9,179.3 L85.1,178.2 L85.2,177.1 L85.3,176.0 L85.4,174.8 L85.5,173.6 L85.5,172.4 L85.5,171.1 L85.4,169.7 L85.4,168.3 L85.3,166.8Z" fill="none" stroke="#1a1200" stroke-opacity="0.72" stroke-width="1.05"/>
<path d="M129.5,135.6 L131.1,135.0 L132.7,134.4 L134.4,133.8 L136.2,133.1 L138.0,132.5 L140.0,131.8 L142.0,131.2 L144.0,130.6 L146.2,130.1 L148.4,129.6 L150.6,129.2 L152.9,128.9 L155.2,128.7 L157.5,128.6 L159.8,128.7 L162.0,128.9 L164.3,129.2 L166.5,129.6 L168.6,130.2 L170.6,131.0 L172.5,131.9 L174.3,133.0 L175.9,134.3 L177.4,135.6 L178.7,137.2 L179.9,138.8 L180.8,140.6 L181.5,142.4 L182.1,144.4 L182.4,146.4 L182.5,148.5 L182.5,150.7 L182.2,152.9 L181.7,155.1 L181.0,157.3 L180.2,159.4 L179.2,161.6 L178.1,163.7 L176.8,165.7 L175.4,167.7 L173.9,169.6 L172.3,171.4 L170.7,173.2 L169.1,174.8 L167.4,176.4 L165.7,177.9 L164.0,179.2 L162.3,180.5 L160.7,181.7 L159.1,182.9 L157.6,183.9 L156.1,184.9 L154.8,185.8 L153.5,186.7 L152.2,187.6 L151.1,188.4 L150.0,189.1 L149.1,189.9 L148.2,190.6 L147.3,191.4 L146.6,192.1 L145.8,192.8 L145.2,193.5 L144.6,194.2 L144.0,194.9 L143.5,195.7 L143.0,196.4 L142.5,197.1 L142.0,197.9 L141.5,198.7 L141.0,199.4 L140.6,200.2 L140.1,200.9 L139.6,201.7 L139.1,202.4 L138.6,203.2 L138.0,204.0 L137.5,204.7 L137.0,205.5 L136.4,206.2 L135.8,207.0 L135.2,207.8 L134.6,208.5 L134.0,209.3 L133.4,210.1 L132.8,210.9 L132.1,211.7 L131.5,212.6 L130.8,213.4 L130.1,214.3 L129.4,215.2 L128.7,216.2 L127.9,217.1 L127.2,218.1 L126.4,219.2 L125.5,220.2 L124.7,221.3 L123.7,222.4 L122.8,223.5 L121.8,224.7 L120.8,225.8 L119.7,227.0 L118.5,228.2 L117.3,229.3 L116.1,230.5 L114.8,231.7 L113.4,232.9 L112.0,234.0 L110.5,235.1 L109.0,236.2 L107.3,237.3 L105.7,238.3 L104.0,239.3 L102.2,240.3 L100.3,241.2 L98.4,242.0 L96.5,242.8 L94.5,243.6 L92.5,244.2 L90.4,244.9 L88.2,245.4 L86.1,245.9 L83.8,246.3 L81.6,246.6 L79.3,246.9 L77.0,247.1 L74.7,247.2 L72.3,247.2 L69.9,247.1 L67.5,246.9 L65.1,246.7 L62.7,246.3 L60.3,245.9 L57.9,245.3 L55.6,244.7 L53.2,243.9 L50.9,243.0 L48.6,242.0 L46.4,240.9 L44.2,239.7 L42.1,238.4 L40.1,237.0 L38.1,235.5 L36.2,233.9 L34.4,232.2 L32.7,230.4 L31.2,228.5 L29.7,226.5 L28.3,224.4 L27.1,222.3 L26.0,220.1 L25.0,217.8 L24.1,215.5 L23.4,213.2 L22.8,210.7 L22.3,208.3 L22.0,205.9 L21.8,203.4 L21.7,200.9 L21.7,198.4 L21.9,195.9 L22.2,193.4 L22.6,191.0 L23.1,188.6 L23.7,186.2 L24.5,183.8 L25.3,181.5 L26.2,179.2 L27.3,176.9 L28.4,174.8 L29.6,172.6 L30.8,170.6 L32.2,168.5 L33.6,166.6 L35.0,164.7 L36.6,162.9 L38.2,161.2 L39.8,159.5 L41.5,157.9 L43.3,156.4 L45.0,155.0 L46.8,153.6 L48.7,152.4 L50.5,151.2 L52.4,150.0 L54.3,149.0 L56.2,148.0 L58.1,147.1 L60.1,146.3 L62.0,145.6 L63.9,144.9 L65.8,144.3 L67.6,143.7 L69.5,143.2 L71.3,142.8 L73.1,142.4 L74.9,142.1 L76.6,141.8 L78.3,141.5 L79.9,141.3 L81.6,141.1 L83.1,140.9 L84.7,140.8 L86.2,140.7 L87.7,140.6 L89.1,140.5 L90.5,140.4 L91.9,140.3 L93.2,140.3 L94.5,140.2 L95.8,140.2 L97.0,140.2 L98.2,140.2 L99.4,140.1 L100.6,140.1 L101.8,140.1 L102.9,140.1 L104.1,140.1 L105.2,140.1 L106.3,140.1 L107.4,140.1 L108.5,140.1 L109.5,140.0 L110.6,140.0 L111.7,140.0 L112.7,139.9 L113.8,139.8 L114.8,139.8 L115.9,139.6 L117.0,139.5 L118.1,139.3 L119.2,139.1 L120.4,138.8 L121.5,138.5 L122.7,138.1 L124.0,137.7 L125.3,137.3 L126.7,136.8 L128.1,136.2Z" fill="none" stroke="#1a1200" stroke-opacity="0.72" stroke-width="1.05"/>
</g>
<text x="79.30" y="113.20" font-size="7.8" text-anchor="middle" font-weight="bold" fill="#000" fill-opacity="0.8">0</text>
<text x="133.30" y="120.00" font-size="7.8" text-anchor="middle" font-weight="bold" fill="#000" fill-opacity="0.8">0</text>
<text x="97.50" y="134.20" font-size="7.8" text-anchor="middle" font-weight="bold" fill="#000" fill-opacity="0.8">0</text>
<text x="117.10" y="133.30" font-size="7.8" text-anchor="middle" font-weight="bold" fill="#000" fill-opacity="0.8">1</text>
<text x="172.40" y="113.10" font-size="7.8" text-anchor="middle" font-weight="bold" fill="#000" fill-opacity="0.8">8</text>
<text x="70.50" y="159.00" font-size="7.8" text-anchor="middle" font-weight="bold" fill="#000" fill-opacity="0.8">0</text>
<text x="94.00" y="155.30" font-size="7.8" text-anchor="middle" font-weight="bold" fill="#000" fill-opacity="0.8">0</text>
<text x="120.30" y="151.70" font-size="7.8" text-anchor="middle" font-weight="bold" fill="#000" fill-opacity="0.8">0</text>
<text x="74.70" y="178.30" font-size="7.8" text-anchor="middle" font-weight="bold" fill="#000" fill-opacity="0.8">1</text>
<text x="92.60" y="179.50" font-size="7.8" text-anchor="middle" font-weight="bold" fill="#000" fill-opacity="0.8">1</text>
<text x="125.90" y="182.10" font-size="7.8" text-anchor="middle" font-weight="bold" fill="#000" fill-opacity="0.8">3</text>
<text x="69.10" y="194.00" font-size="7.8" text-anchor="middle" font-weight="bold" fill="#000" fill-opacity="0.8">1</text>
<text x="146.50" y="143.80" font-size="7.8" text-anchor="middle" font-weight="bold" fill="#000" fill-opacity="0.8">0</text>
<text x="165.50" y="142.10" font-size="7.8" text-anchor="middle" font-weight="bold" fill="#000" fill-opacity="0.8">3</text>
<text x="170.60" y="158.30" font-size="7.8" text-anchor="middle" font-weight="bold" fill="#000" fill-opacity="0.8">0</text>
<text x="154.40" y="166.80" font-size="7.8" text-anchor="middle" font-weight="bold" fill="#000" fill-opacity="0.8">0</text>
<text x="188.80" y="168.20" font-size="7.8" text-anchor="middle" font-weight="bold" fill="#000" fill-opacity="0.8">0</text>
<text x="172.30" y="186.90" font-size="7.8" text-anchor="middle" font-weight="bold" fill="#000" fill-opacity="0.8">1</text>
<text x="87.70" y="204.90" font-size="7.8" text-anchor="middle" font-weight="bold" fill="#000" fill-opacity="0.8">1</text>
<text x="113.60" y="213.10" font-size="7.8" text-anchor="middle" font-weight="bold" fill="#000" fill-opacity="0.8">0</text>
<text x="150.80" y="203.20" font-size="7.8" text-anchor="middle" font-weight="bold" fill="#000" fill-opacity="0.8">0</text>
<text x="136.00" y="226.20" font-size="7.8" text-anchor="middle" font-weight="bold" fill="#000" fill-opacity="0.8">2</text>
<text x="84.30" y="230.50" font-size="7.8" text-anchor="middle" font-weight="bold" fill="#000" fill-opacity="0.8">1</text>
<text x="105.90" y="230.50" font-size="7.8" text-anchor="middle" font-weight="bold" fill="#000" fill-opacity="0.8">3</text>
<text x="120.10" y="239.80" font-size="7.8" text-anchor="middle" font-weight="bold" fill="#000" fill-opacity="0.8">0</text>
<text x="179.10" y="205.90" font-size="7.8" text-anchor="middle" font-weight="bold" fill="#000" fill-opacity="0.8">2</text>
<text x="209.50" y="208.40" font-size="7.8" text-anchor="middle" font-weight="bold" fill="#000" fill-opacity="0.8">7</text>
<text x="164.10" y="216.80" font-size="7.8" text-anchor="middle" font-weight="bold" fill="#000" fill-opacity="0.8">1</text>
<text x="159.50" y="236.10" font-size="7.8" text-anchor="middle" font-weight="bold" fill="#000" fill-opacity="0.8">1</text>
<text x="44.60" y="208.20" font-size="7.8" text-anchor="middle" font-weight="bold" fill="#000" fill-opacity="0.8">13</text>
<text x="125.70" y="266.70" font-size="7.8" text-anchor="middle" font-weight="bold" fill="#000" fill-opacity="0.8">7</text>
<text x="55.90" y="97.80" font-size="12.9" text-anchor="middle" font-weight="normal" fill="#1a1a1a" transform="rotate(-36.2 55.90 97.80)" stroke="#1a1a1a" stroke-width="0.3">FASTmrEMMA</text>
<text x="190.30" y="92.60" font-size="12.9" text-anchor="middle" font-weight="normal" fill="#1a1a1a" transform="rotate(34.6 190.30 92.60)" stroke="#1a1a1a" stroke-width="0.3">FASTmrMLM</text>
<text x="126.00" y="297.60" font-size="12.9" text-anchor="middle" font-weight="normal" fill="#1a1a1a" stroke="#1a1a1a" stroke-width="0.3">mrMLM</text>
<text x="241.20" y="215.40" font-size="12.9" text-anchor="middle" font-weight="normal" fill="#1a1a1a" transform="rotate(-75 241.20 215.40)" stroke="#1a1a1a" stroke-width="0.3">ISISEM-BLASSO</text>
<text x="23.40" y="222.20" font-size="12.9" text-anchor="middle" font-weight="normal" fill="#1a1a1a" transform="rotate(-110 23.40 222.20)" stroke="#1a1a1a" stroke-width="0.3">pLARmEB</text>
<text x="0" y="0" font-size="19" text-anchor="start" font-weight="bold" fill="#111" transform="translate(6.6 57.6) scale(0.9 1)">A</text>
<line x1="381.3" y1="12.8" x2="381.3" y2="129.2" stroke="#111" stroke-width="1.6"/>
<line x1="376.4" y1="129.2" x2="600.5" y2="129.2" stroke="#111" stroke-width="1.6"/>
<line x1="376.4" y1="129.20" x2="381.3" y2="129.20" stroke="#111" stroke-width="1.6"/>
<text x="374.60" y="133.10" font-size="11.5" text-anchor="end" font-weight="bold" fill="#111">0</text>
<line x1="376.4" y1="90.40" x2="381.3" y2="90.40" stroke="#111" stroke-width="1.6"/>
<text x="374.60" y="94.30" font-size="11.5" text-anchor="end" font-weight="bold" fill="#111">4</text>
<line x1="376.4" y1="51.60" x2="381.3" y2="51.60" stroke="#111" stroke-width="1.6"/>
<text x="374.60" y="55.50" font-size="11.5" text-anchor="end" font-weight="bold" fill="#111">8</text>
<line x1="376.4" y1="12.80" x2="381.3" y2="12.80" stroke="#111" stroke-width="1.6"/>
<text x="374.60" y="16.70" font-size="11.5" text-anchor="end" font-weight="bold" fill="#111">12</text>
<rect x="388.50" y="71.00" width="14.3" height="58.20" fill="#908FFF"/>
<line x1="395.65" y1="129.2" x2="395.65" y2="134.2" stroke="#111" stroke-width="1.6"/>
<text x="395.65" y="146.40" font-size="11.5" text-anchor="middle" font-weight="bold" fill="#111">E1</text>
<text x="395.65" y="66.70" font-size="10" text-anchor="middle" font-weight="bold" fill="#111">6</text>
<rect x="409.64" y="71.00" width="14.3" height="58.20" fill="#908FFF"/>
<line x1="416.79" y1="129.2" x2="416.79" y2="134.2" stroke="#111" stroke-width="1.6"/>
<text x="416.79" y="146.40" font-size="11.5" text-anchor="middle" font-weight="bold" fill="#111">E2</text>
<text x="416.79" y="66.70" font-size="10" text-anchor="middle" font-weight="bold" fill="#111">6</text>
<rect x="430.78" y="41.90" width="14.3" height="87.30" fill="#908FFF"/>
<line x1="437.93" y1="129.2" x2="437.93" y2="134.2" stroke="#111" stroke-width="1.6"/>
<text x="437.93" y="146.40" font-size="11.5" text-anchor="middle" font-weight="bold" fill="#111">E3</text>
<text x="437.93" y="37.60" font-size="10" text-anchor="middle" font-weight="bold" fill="#111">9</text>
<rect x="451.92" y="41.90" width="14.3" height="87.30" fill="#908FFF"/>
<line x1="459.07" y1="129.2" x2="459.07" y2="134.2" stroke="#111" stroke-width="1.6"/>
<text x="459.07" y="146.40" font-size="11.5" text-anchor="middle" font-weight="bold" fill="#111">E4</text>
<text x="459.07" y="37.60" font-size="10" text-anchor="middle" font-weight="bold" fill="#111">9</text>
<rect x="473.06" y="109.80" width="14.3" height="19.40" fill="#908FFF"/>
<line x1="480.21" y1="129.2" x2="480.21" y2="134.2" stroke="#111" stroke-width="1.6"/>
<text x="480.21" y="146.40" font-size="11.5" text-anchor="middle" font-weight="bold" fill="#111">E5</text>
<text x="480.21" y="105.50" font-size="10" text-anchor="middle" font-weight="bold" fill="#111">2</text>
<rect x="494.20" y="41.90" width="14.3" height="87.30" fill="#908FFF"/>
<line x1="501.35" y1="129.2" x2="501.35" y2="134.2" stroke="#111" stroke-width="1.6"/>
<text x="501.35" y="146.40" font-size="11.5" text-anchor="middle" font-weight="bold" fill="#111">E6</text>
<text x="501.35" y="37.60" font-size="10" text-anchor="middle" font-weight="bold" fill="#111">9</text>
<rect x="515.34" y="90.40" width="14.3" height="38.80" fill="#908FFF"/>
<line x1="522.49" y1="129.2" x2="522.49" y2="134.2" stroke="#111" stroke-width="1.6"/>
<text x="522.49" y="146.40" font-size="11.5" text-anchor="middle" font-weight="bold" fill="#111">E7</text>
<text x="522.49" y="86.10" font-size="10" text-anchor="middle" font-weight="bold" fill="#111">4</text>
<rect x="536.48" y="100.10" width="14.3" height="29.10" fill="#908FFF"/>
<line x1="543.63" y1="129.2" x2="543.63" y2="134.2" stroke="#111" stroke-width="1.6"/>
<text x="543.63" y="146.40" font-size="11.5" text-anchor="middle" font-weight="bold" fill="#111">E8</text>
<text x="543.63" y="95.80" font-size="10" text-anchor="middle" font-weight="bold" fill="#111">3</text>
<rect x="557.62" y="100.10" width="14.3" height="29.10" fill="#908FFF"/>
<line x1="564.77" y1="129.2" x2="564.77" y2="134.2" stroke="#111" stroke-width="1.6"/>
<text x="564.77" y="146.40" font-size="11.5" text-anchor="middle" font-weight="bold" fill="#111">E9</text>
<text x="564.77" y="95.80" font-size="10" text-anchor="middle" font-weight="bold" fill="#111">3</text>
<rect x="578.76" y="80.70" width="14.3" height="48.50" fill="#908FFF"/>
<line x1="585.91" y1="129.2" x2="585.91" y2="134.2" stroke="#111" stroke-width="1.6"/>
<text x="585.91" y="146.40" font-size="11.5" text-anchor="middle" font-weight="bold" fill="#111">E10</text>
<text x="585.91" y="76.40" font-size="10" text-anchor="middle" font-weight="bold" fill="#111">5</text>
<text x="490.70" y="164.30" font-size="11.6" text-anchor="middle" font-weight="bold" fill="#111">Environments</text>
<text x="356.40" y="69.20" font-size="12" text-anchor="middle" font-weight="bold" fill="#111" transform="rotate(-90 356.40 69.20)">Number of QTNs</text>
<text x="322.20" y="16.00" font-size="17.3" text-anchor="start" font-weight="bold" fill="#111">B</text>
<line x1="327.1" y1="184.0" x2="327.1" y2="294.0" stroke="#111" stroke-width="2"/>
<line x1="322" y1="294.0" x2="675" y2="294.0" stroke="#111" stroke-width="1.7"/>
<line x1="322" y1="294.00" x2="327.1" y2="294.00" stroke="#111" stroke-width="1.7"/>
<text x="320.80" y="297.90" font-size="10.4" text-anchor="end" font-weight="bold" fill="#111">0</text>
<line x1="322" y1="266.50" x2="327.1" y2="266.50" stroke="#111" stroke-width="1.7"/>
<text x="320.80" y="270.40" font-size="10.4" text-anchor="end" font-weight="bold" fill="#111">2</text>
<line x1="322" y1="239.00" x2="327.1" y2="239.00" stroke="#111" stroke-width="1.7"/>
<text x="320.80" y="242.90" font-size="10.4" text-anchor="end" font-weight="bold" fill="#111">4</text>
<line x1="322" y1="211.50" x2="327.1" y2="211.50" stroke="#111" stroke-width="1.7"/>
<text x="320.80" y="215.40" font-size="10.4" text-anchor="end" font-weight="bold" fill="#111">6</text>
<line x1="322" y1="184.00" x2="327.1" y2="184.00" stroke="#111" stroke-width="1.7"/>
<text x="320.80" y="187.90" font-size="10.4" text-anchor="end" font-weight="bold" fill="#111">8</text>
<rect x="332.70" y="239.00" width="11.2" height="55.00" fill="#0202FC"/>
<line x1="338.30" y1="294.0" x2="338.30" y2="298.6" stroke="#111" stroke-width="1.7"/>
<text x="341.90" y="309.10" font-size="11" text-anchor="end" font-weight="bold" fill="#111" transform="rotate(-45 341.90 309.10)">Chr01</text>
<text x="338.30" y="235.70" font-size="9" text-anchor="middle" font-weight="bold" fill="#111">4</text>
<rect x="349.77" y="239.00" width="11.2" height="55.00" fill="#0202FC"/>
<line x1="355.37" y1="294.0" x2="355.37" y2="298.6" stroke="#111" stroke-width="1.7"/>
<text x="358.97" y="309.10" font-size="11" text-anchor="end" font-weight="bold" fill="#111" transform="rotate(-45 358.97 309.10)">Chr02</text>
<text x="355.37" y="235.70" font-size="9" text-anchor="middle" font-weight="bold" fill="#111">4</text>
<rect x="366.84" y="280.25" width="11.2" height="13.75" fill="#0202FC"/>
<line x1="372.44" y1="294.0" x2="372.44" y2="298.6" stroke="#111" stroke-width="1.7"/>
<text x="376.04" y="309.10" font-size="11" text-anchor="end" font-weight="bold" fill="#111" transform="rotate(-45 376.04 309.10)">Chr03</text>
<text x="372.44" y="276.95" font-size="9" text-anchor="middle" font-weight="bold" fill="#111">1</text>
<rect x="383.91" y="225.25" width="11.2" height="68.75" fill="#0202FC"/>
<line x1="389.51" y1="294.0" x2="389.51" y2="298.6" stroke="#111" stroke-width="1.7"/>
<text x="393.11" y="309.10" font-size="11" text-anchor="end" font-weight="bold" fill="#111" transform="rotate(-45 393.11 309.10)">Chr04</text>
<text x="389.51" y="221.95" font-size="9" text-anchor="middle" font-weight="bold" fill="#111">5</text>
<rect x="400.98" y="266.50" width="11.2" height="27.50" fill="#0202FC"/>
<line x1="406.58" y1="294.0" x2="406.58" y2="298.6" stroke="#111" stroke-width="1.7"/>
<text x="410.18" y="309.10" font-size="11" text-anchor="end" font-weight="bold" fill="#111" transform="rotate(-45 410.18 309.10)">Chr05</text>
<text x="406.58" y="263.20" font-size="9" text-anchor="middle" font-weight="bold" fill="#111">2</text>
<rect x="418.05" y="280.25" width="11.2" height="13.75" fill="#0202FC"/>
<line x1="423.65" y1="294.0" x2="423.65" y2="298.6" stroke="#111" stroke-width="1.7"/>
<text x="427.25" y="309.10" font-size="11" text-anchor="end" font-weight="bold" fill="#111" transform="rotate(-45 427.25 309.10)">Chr06</text>
<text x="423.65" y="276.95" font-size="9" text-anchor="middle" font-weight="bold" fill="#111">1</text>
<rect x="435.12" y="252.75" width="11.2" height="41.25" fill="#0202FC"/>
<line x1="440.72" y1="294.0" x2="440.72" y2="298.6" stroke="#111" stroke-width="1.7"/>
<text x="444.32" y="309.10" font-size="11" text-anchor="end" font-weight="bold" fill="#111" transform="rotate(-45 444.32 309.10)">Chr07</text>
<text x="440.72" y="249.45" font-size="9" text-anchor="middle" font-weight="bold" fill="#111">3</text>
<rect x="452.19" y="239.00" width="11.2" height="55.00" fill="#0202FC"/>
<line x1="457.79" y1="294.0" x2="457.79" y2="298.6" stroke="#111" stroke-width="1.7"/>
<text x="461.39" y="309.10" font-size="11" text-anchor="end" font-weight="bold" fill="#111" transform="rotate(-45 461.39 309.10)">Chr08</text>
<text x="457.79" y="235.70" font-size="9" text-anchor="middle" font-weight="bold" fill="#111">4</text>
<rect x="469.26" y="211.50" width="11.2" height="82.50" fill="#0202FC"/>
<line x1="474.86" y1="294.0" x2="474.86" y2="298.6" stroke="#111" stroke-width="1.7"/>
<text x="478.46" y="309.10" font-size="11" text-anchor="end" font-weight="bold" fill="#111" transform="rotate(-45 478.46 309.10)">Chr09</text>
<text x="474.86" y="208.20" font-size="9" text-anchor="middle" font-weight="bold" fill="#111">6</text>
<rect x="486.33" y="252.75" width="11.2" height="41.25" fill="#0202FC"/>
<line x1="491.93" y1="294.0" x2="491.93" y2="298.6" stroke="#111" stroke-width="1.7"/>
<text x="495.53" y="309.10" font-size="11" text-anchor="end" font-weight="bold" fill="#111" transform="rotate(-45 495.53 309.10)">Chr10</text>
<text x="491.93" y="249.45" font-size="9" text-anchor="middle" font-weight="bold" fill="#111">3</text>
<rect x="503.40" y="280.25" width="11.2" height="13.75" fill="#0202FC"/>
<line x1="509.00" y1="294.0" x2="509.00" y2="298.6" stroke="#111" stroke-width="1.7"/>
<text x="512.60" y="309.10" font-size="11" text-anchor="end" font-weight="bold" fill="#111" transform="rotate(-45 512.60 309.10)">Chr11</text>
<text x="509.00" y="276.95" font-size="9" text-anchor="middle" font-weight="bold" fill="#111">1</text>
<line x1="526.07" y1="294.0" x2="526.07" y2="298.6" stroke="#111" stroke-width="1.7"/>
<text x="529.67" y="309.10" font-size="11" text-anchor="end" font-weight="bold" fill="#111" transform="rotate(-45 529.67 309.10)">Chr12</text>
<text x="526.07" y="290.70" font-size="9" text-anchor="middle" font-weight="bold" fill="#111">0</text>
<rect x="537.54" y="280.25" width="11.2" height="13.75" fill="#0202FC"/>
<line x1="543.14" y1="294.0" x2="543.14" y2="298.6" stroke="#111" stroke-width="1.7"/>
<text x="546.74" y="309.10" font-size="11" text-anchor="end" font-weight="bold" fill="#111" transform="rotate(-45 546.74 309.10)">Chr13</text>
<text x="543.14" y="276.95" font-size="9" text-anchor="middle" font-weight="bold" fill="#111">1</text>
<rect x="554.61" y="280.25" width="11.2" height="13.75" fill="#0202FC"/>
<line x1="560.21" y1="294.0" x2="560.21" y2="298.6" stroke="#111" stroke-width="1.7"/>
<text x="563.81" y="309.10" font-size="11" text-anchor="end" font-weight="bold" fill="#111" transform="rotate(-45 563.81 309.10)">Chr14</text>
<text x="560.21" y="276.95" font-size="9" text-anchor="middle" font-weight="bold" fill="#111">1</text>
<rect x="571.68" y="266.50" width="11.2" height="27.50" fill="#0202FC"/>
<line x1="577.28" y1="294.0" x2="577.28" y2="298.6" stroke="#111" stroke-width="1.7"/>
<text x="580.88" y="309.10" font-size="11" text-anchor="end" font-weight="bold" fill="#111" transform="rotate(-45 580.88 309.10)">Chr15</text>
<text x="577.28" y="263.20" font-size="9" text-anchor="middle" font-weight="bold" fill="#111">2</text>
<rect x="588.75" y="239.00" width="11.2" height="55.00" fill="#0202FC"/>
<line x1="594.35" y1="294.0" x2="594.35" y2="298.6" stroke="#111" stroke-width="1.7"/>
<text x="597.95" y="309.10" font-size="11" text-anchor="end" font-weight="bold" fill="#111" transform="rotate(-45 597.95 309.10)">Chr16</text>
<text x="594.35" y="235.70" font-size="9" text-anchor="middle" font-weight="bold" fill="#111">4</text>
<rect x="605.82" y="239.00" width="11.2" height="55.00" fill="#0202FC"/>
<line x1="611.42" y1="294.0" x2="611.42" y2="298.6" stroke="#111" stroke-width="1.7"/>
<text x="615.02" y="309.10" font-size="11" text-anchor="end" font-weight="bold" fill="#111" transform="rotate(-45 615.02 309.10)">Chr17</text>
<text x="611.42" y="235.70" font-size="9" text-anchor="middle" font-weight="bold" fill="#111">4</text>
<rect x="622.89" y="252.75" width="11.2" height="41.25" fill="#0202FC"/>
<line x1="628.49" y1="294.0" x2="628.49" y2="298.6" stroke="#111" stroke-width="1.7"/>
<text x="632.09" y="309.10" font-size="11" text-anchor="end" font-weight="bold" fill="#111" transform="rotate(-45 632.09 309.10)">Chr18</text>
<text x="628.49" y="249.45" font-size="9" text-anchor="middle" font-weight="bold" fill="#111">3</text>
<rect x="639.96" y="252.75" width="11.2" height="41.25" fill="#0202FC"/>
<line x1="645.56" y1="294.0" x2="645.56" y2="298.6" stroke="#111" stroke-width="1.7"/>
<text x="649.16" y="309.10" font-size="11" text-anchor="end" font-weight="bold" fill="#111" transform="rotate(-45 649.16 309.10)">Chr19</text>
<text x="645.56" y="249.45" font-size="9" text-anchor="middle" font-weight="bold" fill="#111">3</text>
<rect x="657.03" y="266.50" width="11.2" height="27.50" fill="#0202FC"/>
<line x1="662.63" y1="294.0" x2="662.63" y2="298.6" stroke="#111" stroke-width="1.7"/>
<text x="666.23" y="309.10" font-size="11" text-anchor="end" font-weight="bold" fill="#111" transform="rotate(-45 666.23 309.10)">Chr20</text>
<text x="662.63" y="263.20" font-size="9" text-anchor="middle" font-weight="bold" fill="#111">2</text>
<text x="500.30" y="345.90" font-size="12.5" text-anchor="middle" font-weight="bold" fill="#111">Chromosomes</text>
<text x="307.10" y="237.80" font-size="12.5" text-anchor="middle" font-weight="bold" fill="#111" transform="rotate(-90 307.10 237.80)">Number of QTNs</text>
<text x="284.60" y="172.00" font-size="18" text-anchor="start" font-weight="bold" fill="#111">C</text>
</svg>
</body></html>
